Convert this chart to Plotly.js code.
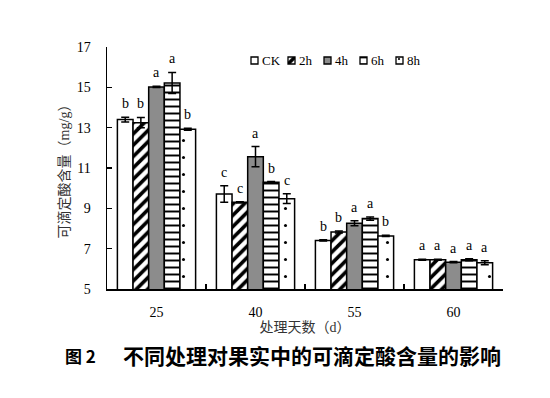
<!DOCTYPE html>
<html>
<head>
<meta charset="utf-8">
<script src="https://cdn.plot.ly/plotly-3.0.1.min.js"></script>
<style>html,body{margin:0;padding:0;background:#fff;}#chart{width:550px;height:398px;}</style>
</head>
<body>
<div id="chart"></div>
<script>
// ---- data ----
const categories = ['25', '40', '55', '60'];
const seriesNames = ['CK', '2h', '4h', '6h', '8h'];
const ckValues = [13.40, 9.71, 7.41, 6.45];
const h2Values = [13.25, 9.30, 7.83, 6.45];
const h4Values = [15.02, 11.56, 8.26, 6.33];
const h6Values = [15.22, 10.29, 8.49, 6.45];
const h8Values = [12.92, 9.48, 7.63, 6.30];
const ckErrors = [0.12, 0.41, 0.03, 0.03];
const h2Errors = [0.26, 0.03, 0.05, 0.03];
const h4Errors = [0.03, 0.50, 0.12, 0.03];
const h6Errors = [0.52, 0.04, 0.08, 0.05];
const h8Errors = [0.05, 0.24, 0.03, 0.10];
const ckLetters = ['b', 'c', 'b', 'a'];
const h2Letters = ['b', 'c', 'b', 'a'];
const h4Letters = ['a', 'a', 'a', 'a'];
const h6Letters = ['a', 'b', 'a', 'a'];
const h8Letters = ['b', 'c', 'b', 'a'];
const yTitle = '可滴定酸含量（mg/g）';
const xTitle = '处理天数（d）';
const figLabel = '图 2';
const caption = '不同处理对果实中的可滴定酸含量的影响';

// ---- styles ----
const values = [ckValues, h2Values, h4Values, h6Values, h8Values];
const errors = [ckErrors, h2Errors, h4Errors, h6Errors, h8Errors];
const letters = [ckLetters, h2Letters, h4Letters, h6Letters, h8Letters];
const styles = [
  {color: '#ffffff', pattern: {shape: ''}, legendPattern: {shape: ''}},
  {color: '#ffffff',
   pattern: {shape: '/', fgcolor: '#000', bgcolor: '#fff', size: 8, solidity: 0.45, fillmode: 'replace'},
   legendPattern: {shape: '/', fgcolor: '#000', bgcolor: '#fff', size: 7, solidity: 0.5, fillmode: 'replace'}},
  {color: '#8c8c8c', pattern: {shape: ''}, legendPattern: {shape: ''}},
  {color: '#ffffff',
   pattern: {shape: '-', fgcolor: '#000', bgcolor: '#fff', size: 7, solidity: 0.28, fillmode: 'replace'},
   legendPattern: {shape: '-', fgcolor: '#000', bgcolor: '#fff', size: 7, solidity: 0.25, fillmode: 'replace'}},
  {color: '#ffffff',
   pattern: {shape: '.', fgcolor: '#000', bgcolor: '#fff', size: 17, solidity: 0.025, fillmode: 'replace'},
   legendPattern: {shape: '.', fgcolor: '#000', bgcolor: '#fff', size: 8, solidity: 0.06, fillmode: 'replace'}}
];
const serif = 'Liberation Serif, Times New Roman, serif';
const cjk = 'Liberation Serif, Noto Sans CJK SC, serif';
const bargap = 0.21;
const L = 107, R = 47, T = 47, B = 109, W = 550, H = 398;
const PW = W - L - R, PH = H - T - B;

const traces = seriesNames.map((name, k) => ({
  type: 'bar',
  name: name,
  x: categories,
  y: values[k],
  marker: {color: styles[k].color, pattern: styles[k].pattern, line: {color: '#000', width: 1.5}},
  error_y: {type: 'data', array: errors[k], visible: true, color: '#000', thickness: 1.5, width: 4},
  showlegend: false,
  hoverinfo: 'skip'
}));

// manual legend (pixel-unit overlay axes)
const legendLeft = [251, 288, 324, 360, 396];
const legendY = 60.5, sw = 7;
seriesNames.forEach((name, k) => {
  traces.push({
    type: 'bar',
    x: [legendLeft[k] - L + sw / 2],
    y: [sw],
    base: PH - (legendY - T) - sw / 2,
    width: sw,
    xaxis: 'x2', yaxis: 'y2',
    marker: {color: styles[k].color, pattern: styles[k].legendPattern, line: {color: '#000', width: 1.3}},
    showlegend: false, hoverinfo: 'skip'
  });
});

const annotations = [];
const span = 1 - bargap, bw = span / seriesNames.length;
seriesNames.forEach((name, k) => {
  categories.forEach((c, i) => {
    annotations.push({
      xref: 'x', yref: 'y',
      x: i - span / 2 + (k + 0.5) * bw,
      y: values[k][i] + errors[k][i],
      text: letters[k][i],
      showarrow: false, yanchor: 'bottom', yshift: 4,
      font: {family: serif, size: 14, color: '#000'}
    });
  });
  annotations.push({
    xref: 'x2', yref: 'y2',
    x: legendLeft[k] - L + sw + 2,
    y: PH - (legendY - T),
    text: name, showarrow: false, xanchor: 'left', yanchor: 'middle',
    font: {family: serif, size: 13, color: '#000'}
  });
});
annotations.push({
  xref: 'paper', yref: 'paper', x: (63 - L) / PW, y: (PH + T - 355) / PH,
  text: '<b>' + figLabel + '</b>', showarrow: false, xanchor: 'left', yanchor: 'middle',
  font: {family: 'Noto Sans CJK SC, sans-serif', size: 17, color: '#000'}
});
annotations.push({
  xref: 'paper', yref: 'paper', x: (121 - L) / PW, y: (PH + T - 355) / PH,
  text: '<b>' + caption + '</b>', showarrow: false, xanchor: 'left', yanchor: 'middle',
  font: {family: 'Noto Sans CJK SC, sans-serif', size: 21, color: '#000'}
});

const layout = {
  width: W, height: H,
  margin: {l: L, r: R, t: T, b: B, pad: 0},
  paper_bgcolor: '#fff', plot_bgcolor: '#fff',
  barmode: 'group', bargap: bargap, bargroupgap: 0,
  showlegend: false,
  xaxis: {
    type: 'category', range: [-0.5, 3.5], tickson: 'boundaries',
    ticks: 'inside', ticklen: 5, tickwidth: 1.5, tickcolor: '#000',
    showline: true, linewidth: 1.5, linecolor: '#000', showgrid: false,
    tickfont: {family: serif, size: 14, color: '#000'},
    ticklabelstandoff: 10,
    title: {text: xTitle, font: {family: cjk, size: 14, color: '#333'}, standoff: 1}
  },
  yaxis: {
    range: [5, 17], tick0: 5, dtick: 2,
    ticks: 'inside', ticklen: 5, tickwidth: 1.5, tickcolor: '#000',
    showline: true, linewidth: 1.5, linecolor: '#000', showgrid: false, zeroline: false,
    tickfont: {family: serif, size: 14, color: '#000'},
    ticklabelstandoff: 12,
    title: {text: yTitle, font: {family: cjk, size: 14, color: '#333'}, standoff: 4}
  },
  xaxis2: {overlaying: 'x', anchor: 'y2', range: [0, PW], visible: false, fixedrange: true},
  yaxis2: {overlaying: 'y', anchor: 'x2', range: [0, PH], visible: false, fixedrange: true},
  annotations: annotations
};

Plotly.newPlot('chart', traces, layout, {staticPlot: true, displayModeBar: false});
</script>
</body>
</html>
